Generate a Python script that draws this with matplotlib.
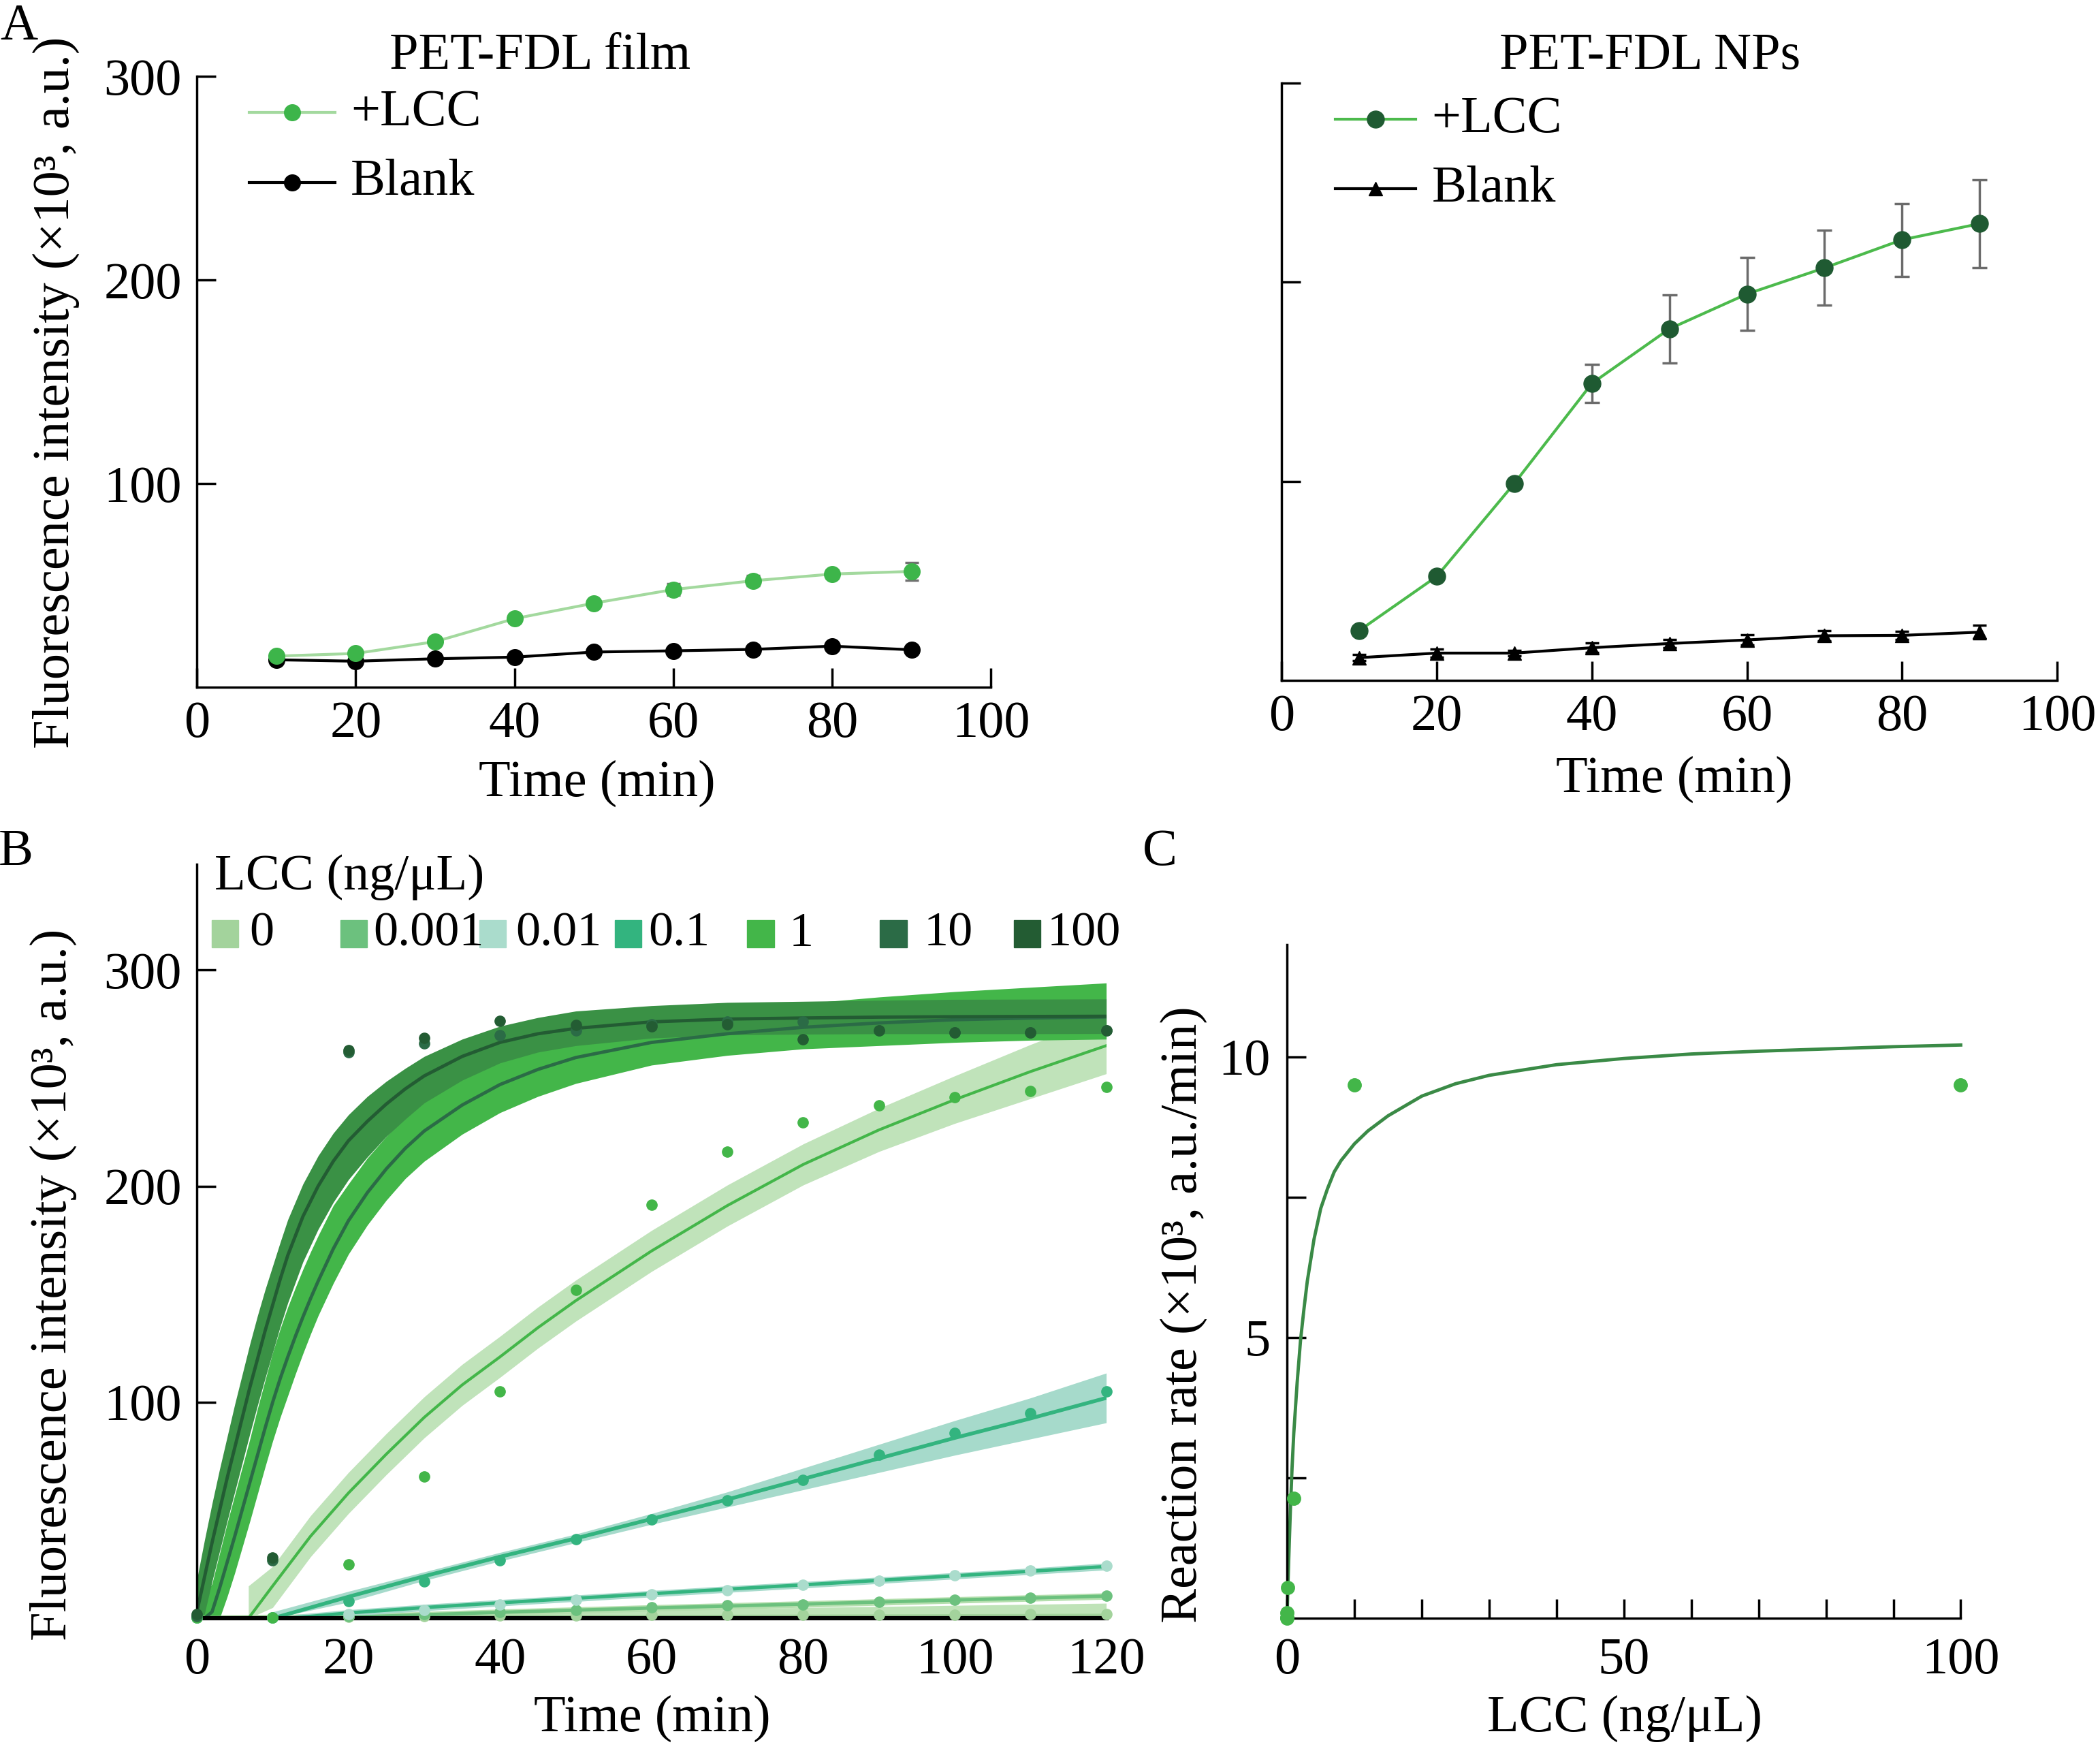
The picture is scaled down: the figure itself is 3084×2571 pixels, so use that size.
import matplotlib
matplotlib.use("Agg")
import matplotlib.pyplot as plt
from matplotlib.lines import Line2D
from matplotlib.patches import Rectangle
from matplotlib.ticker import FixedLocator, NullFormatter

plt.rcParams['font.family'] = ['Liberation Serif', 'DejaVu Serif']
plt.rcParams['axes.linewidth'] = 2.5

# ---------------- Panel A data ----------------
time_a = [10, 20, 30, 40, 50, 60, 70, 80, 90]
film_lcc = [15.3, 16.6, 22.4, 33.7, 41.3, 48.0, 52.3, 55.6, 56.9]
film_lcc_err = [1.0, 1.0, 1.0, 2.0, 1.2, 2.8, 2.5, 2.0, 4.5]
film_blank = [13.5, 12.8, 14.0, 14.8, 17.3, 17.9, 18.6, 20.2, 18.4]
np_lcc = [25.1, 52.3, 99.0, 149.2, 176.6, 194.1, 207.2, 221.3, 229.4]
np_lcc_err = [1.5, 1.5, 1.5, 9.5, 17.0, 18.3, 18.8, 18.3, 22.2]
np_blank = [11.5, 13.8, 13.8, 16.5, 18.6, 20.4, 22.5, 22.7, 24.3]
np_blank_err = [1.5, 2.0, 1.5, 2.5, 2.0, 2.5, 2.5, 2.0, 3.5]

# ---------------- Panel B data ----------------
lcc_labels = ['0', '0.001', '0.01', '0.1', '1', '10', '100']
time_pts = [0, 10, 20, 30, 40, 50, 60, 70, 80, 90, 100, 110, 120]
pts_0 = [0.5, 0.5, 0.8, 1.0, 1.2, 1.3, 1.5, 1.5, 1.6, 1.7, 1.8, 1.9, 2.0]
pts_0001 = [0.3, 0.5, 1.0, 2.0, 3.0, 4.0, 5.0, 6.0, 6.5, 7.5, 8.5, 9.5, 10.5]
pts_001 = [0.3, 0.5, 2.0, 4.0, 6.3, 8.5, 11.0, 13.0, 15.5, 17.5, 20.0, 22.0, 24.5]
pts_01 = [0.5, 0.5, 8.0, 17.0, 27.0, 36.5, 45.8, 54.7, 64.0, 75.8, 85.7, 95.0, 105.0]
pts_1 = [0.5, 0.5, 25.0, 65.5, 105.0, 152.0, 191.5, 216.0, 229.5, 237.5, 241.0, 244.0, 246.0]
pts_10 = [1.0, 27.0, 262.0, 266.0, 269.8, 272.0, 275.0, 276.0, 276.0, 272.0, 271.0, 271.0, 272.0]
pts_100 = [2.0, 28.0, 263.0, 268.5, 276.6, 274.7, 274.0, 275.0, 268.0, 272.0, 271.0, 271.0, 272.0]

# fitted curves with confidence bands
t_0 = [0, 40, 80, 120]
fit_0 = [0.5, 0.8, 1.1, 1.5]
lo_0 = [0, 0, 0, 0]
hi_0 = [1.5, 3.0, 5.0, 7.0]

t_0001 = [0, 15, 40, 60, 80, 100, 120]
fit_0001 = [0, 0, 2.8, 4.8, 6.6, 8.5, 10.3]
t_0001_band = [15, 40, 60, 80, 100, 120]
lo_0001 = [0, 1.3, 3.3, 5.1, 7.0, 8.8]
hi_0001 = [1.5, 4.3, 6.3, 8.1, 10.0, 11.8]

t_001 = [0, 12, 20, 30, 40, 50, 60, 70, 80, 90, 100, 110, 120]
fit_001 = [0, 0, 2.5, 5.0, 7.2, 9.3, 11.4, 13.5, 15.5, 17.6, 19.7, 21.8, 24.0]
t_001_band = [12, 20, 30, 40, 50, 60, 70, 80, 90, 100, 110, 120]
lo_001 = [0, 1.0, 3.5, 5.7, 7.8, 9.9, 12.0, 14.0, 16.1, 18.2, 20.3, 22.4]
hi_001 = [1.5, 4.0, 6.5, 8.7, 10.8, 12.9, 15.0, 17.0, 19.1, 21.2, 23.3, 25.6]

t_01 = [0, 10, 20, 30, 40, 50, 60, 70, 80, 90, 100, 110, 120]
fit_01 = [0, 0, 10.0, 19.5, 28.5, 37.0, 46.0, 55.0, 64.5, 74.0, 83.5, 92.5, 102.0]
t_01_band = [10, 20, 30, 40, 50, 60, 70, 80, 90, 100, 110, 120]
lo_01 = [0, 7.5, 17.5, 26.5, 35.0, 43.5, 51.5, 59.5, 67.5, 75.5, 83.0, 90.5]
hi_01 = [3.0, 12.5, 21.5, 30.5, 39.0, 48.5, 58.5, 69.5, 80.5, 91.5, 102.0, 113.5]

t_1 = [0, 6.8, 10, 15, 20, 25, 30, 35, 40, 45, 50, 60, 70, 80, 90, 100, 110, 120]
fit_1 = [0, 0, 15, 38, 58, 76, 93, 108, 121, 134.5, 147, 170, 191, 210, 226, 240, 253, 265]
t_1_band = [6.8, 10, 15, 20, 25, 30, 35, 40, 45, 50, 60, 70, 80, 90, 100, 110, 120]
lo_1 = [0, 5, 28.5, 48.5, 66.5, 83.5, 98.5, 111.5, 125, 137.5, 160.5, 181.5, 200.5, 216, 229, 240.5, 252]
hi_1 = [15, 24, 47.5, 67.5, 85.5, 102.5, 117.5, 130.5, 144, 156.5, 179.5, 200.5, 219.5, 236, 251, 265.5, 279]

t_fast = [0, 1, 2, 3, 4, 5, 6, 7, 8, 9, 10, 11, 12, 13, 14, 15, 16, 18, 20, 22.5, 25, 27.5,
          30, 35, 40, 45, 50, 60, 70, 80, 90, 100, 110, 120]
fit_10 = [0, 0, 3, 14, 26, 38, 50.5, 63, 75.5, 88, 100, 111, 121, 130.5, 139.5, 148, 156, 171,
          184, 197, 208, 217.5, 225.5, 237.5, 247, 254, 259.5, 266.5, 270.5, 273.5, 275.5, 277,
          277.8, 278.3]
lo_10 = [0, 0, 0, 0, 10, 21, 33, 45, 57.5, 70, 82, 93, 103, 113, 122.5, 131.5, 140, 155, 168.5,
         182, 193.5, 203.5, 211.5, 224, 234, 241.5, 247.5, 256, 260.5, 263.5, 265, 266.5, 267.5, 268]
hi_10 = [6, 10, 16, 30, 44, 57, 70, 83, 97, 110, 123, 134, 144, 153, 161.5, 169.5, 177, 191, 201,
         213, 223, 232, 239.5, 251, 260, 266, 271, 277, 281.5, 284.5, 287.5, 290, 292, 294]
t_fast100 = [0, 1, 2, 3, 4, 5, 6, 7, 8, 9, 10, 11, 12, 14, 16, 18, 20, 22.5, 25, 27.5, 30, 35,
             40, 45, 50, 60, 70, 80, 90, 100, 110, 120]
fit_100 = [3, 19, 35, 50, 65, 79, 93, 107, 120, 133, 145, 157, 168, 186, 200, 211.5, 221, 230,
           238, 245, 251, 260, 266.5, 270.5, 273, 276, 277.3, 277.8, 278.2, 278.4, 278.5, 278.6]
lo_100 = [0, 2, 17, 31, 45, 58.5, 72, 85.5, 98.5, 111, 123, 135, 146, 165, 180, 192.5, 203,
          213.5, 223, 231, 238.5, 249, 257, 262, 265, 268.5, 270, 270.3, 270.5, 270.5, 270.5, 270.6]
hi_100 = [18, 36, 53, 69, 84, 99, 113, 127, 140, 152, 163, 174, 184.5, 201, 214, 224.5, 233,
          241.5, 248.5, 254.5, 260, 268, 274, 278, 281, 283.5, 285, 285.5, 286, 286.4, 286.5, 286.6]

# ---------------- Panel C data ----------------
lcc_c = [0, 0.001, 0.01, 0.1, 1, 10, 100]
rate_c = [0.0, 0.02, 0.1, 0.55, 2.14, 9.5, 9.5]
curve_x = [0, 0.1, 0.25, 0.5, 0.75, 1, 1.5, 2, 2.5, 3, 4, 5, 6, 7, 8, 10, 12, 15, 20, 25, 30,
           40, 50, 60, 70, 80, 90, 100]
curve_y = [0, 0.45, 1.05, 1.95, 2.7, 3.3, 4.2, 4.95, 5.5, 6.0, 6.75, 7.3, 7.65, 7.95, 8.15, 8.45,
           8.68, 8.95, 9.3, 9.52, 9.67, 9.86, 9.97, 10.05, 10.1, 10.14, 10.18, 10.21]

# ---------------- layout helpers ----------------
FS = 55
W, H = 1568.0, 1307.0


def fx(x):
    return x / W


def fy(y):
    return 1 - y / H


def rect(x0, y0, x1, y1):
    return [fx(x0), fy(y1), fx(x1) - fx(x0), fy(y0) - fy(y1)]


fig = plt.figure(figsize=(30.84, 25.71), dpi=100)


def style(ax, xpad=14, ypad=16):
    for s in ('top', 'right'):
        ax.spines[s].set_visible(False)
    for s in ('left', 'bottom'):
        ax.spines[s].set_linewidth(2.5)
    ax.tick_params(axis='both', which='both', direction='in', length=20, width=2.5,
                   labelsize=FS)
    ax.tick_params(axis='x', pad=xpad)
    ax.tick_params(axis='y', pad=ypad)


# ---------------- Panel A left ----------------
axA1 = fig.add_axes(rect(147, 57, 740, 513))
style(axA1)
axA1.set_xlim(0, 100)
axA1.set_ylim(0, 300)
axA1.set_xticks([0, 20, 40, 60, 80, 100])
axA1.set_yticks([100, 200, 300])
axA1.plot(time_a, film_blank, color='black', lw=3, marker='o', ms=17, zorder=3)
axA1.errorbar(time_a, film_lcc, yerr=film_lcc_err, color='#a3d99e', lw=3, marker='o', ms=17,
              mfc='#3db54a', mec='#3db54a', ecolor='#707070', elinewidth=2.5, capsize=7,
              capthick=2.5, zorder=4)

# ---------------- Panel A right ----------------
axA2 = fig.add_axes(rect(957, 62, 1536, 508))
style(axA2)
axA2.set_xlim(0, 100)
axA2.set_ylim(0, 300)
axA2.set_xticks([0, 20, 40, 60, 80, 100])
axA2.set_yticks([100, 200, 300])
axA2.yaxis.set_major_formatter(NullFormatter())
axA2.errorbar(time_a, np_blank, yerr=np_blank_err, color='black', lw=3, marker='^', ms=15,
              ecolor='black', elinewidth=2.5, capsize=7, capthick=2.5, zorder=3)
axA2.errorbar(time_a, np_lcc, yerr=np_lcc_err, color='#4cba4c', lw=3, marker='o', ms=18,
              mfc='#1f5a32', mec='#1f5a32', ecolor='#6b6b6b', elinewidth=2.5, capsize=8,
              capthick=2.5, zorder=4)

fig.text(fx(403), fy(42), 'PET-FDL film', fontsize=FS, ha='center', va='center')
fig.text(fx(1232), fy(42), 'PET-FDL NPs', fontsize=FS, ha='center', va='center')


def fig_legend_line(x0, x1, y, color, mcolor, marker, ms, label, tx):
    fig.add_artist(Line2D([fx(x0), fx(x1)], [fy(y), fy(y)], color=color, lw=3,
                          transform=fig.transFigure))
    fig.add_artist(Line2D([fx((x0 + x1) / 2)], [fy(y)], color=mcolor, marker=marker, ms=ms,
                          lw=0, transform=fig.transFigure))
    fig.text(fx(tx), fy(y), label, fontsize=FS, ha='left', va='center')


fig_legend_line(186, 250, 84, '#a3d99e', '#3db54a', 'o', 17, '+LCC', 262)
fig_legend_line(186, 250, 136, 'black', 'black', 'o', 17, 'Blank', 262)
fig_legend_line(997, 1057, 89, '#4cba4c', '#1f5a32', 'o', 18, '+LCC', 1069)
fig_legend_line(997, 1057, 141, 'black', 'black', '^', 15, 'Blank', 1069)

fig.text(fx(446), fy(585), 'Time (min)', fontsize=FS, ha='center', va='center')
fig.text(fx(1250), fy(582), 'Time (min)', fontsize=FS, ha='center', va='center')
fig.text(fx(42), fy(293), 'Fluorescence intensity (×10³, a.u.)', fontsize=FS, ha='center',
         va='center', rotation=90)

# ---------------- Panel B ----------------
axB = fig.add_axes(rect(147, 645, 826, 1208))
style(axB, xpad=20, ypad=16)
axB.spines['bottom'].set_linewidth(4.5)
axB.tick_params(axis='x', length=0)
axB.set_xlim(0, 120)
axB.set_ylim(0, 349)
axB.set_xticks([0, 20, 40, 60, 80, 100, 120])
axB.set_yticks([100, 200, 300])

leg_colors = ['#a3d39c', '#6cc17e', '#aadccc', '#33b47f', '#43b649', '#2b6b46', '#235c33']

axB.fill_between(t_0, lo_0, hi_0, color='#bfe3b8', lw=0, zorder=1)
axB.plot(t_0, fit_0, color='#a3d39c', lw=3, zorder=2)
axB.fill_between(t_0001_band, lo_0001, hi_0001, color='#b5dfae', lw=0, zorder=1)
axB.plot(t_0001, fit_0001, color='#6cc17e', lw=3.5, zorder=2)
axB.fill_between(t_001_band, lo_001, hi_001, color='#a6dacb', lw=0, zorder=1)
axB.plot(t_001, fit_001, color='#33b47f', lw=3.5, zorder=2)
axB.fill_between(t_01_band, lo_01, hi_01, color='#a6dacb', lw=0, zorder=1)
axB.plot(t_01, fit_01, color='#33b47f', lw=4, zorder=2)
axB.fill_between(t_1_band, lo_1, hi_1, color='#c0e3ba', lw=0, zorder=1)
axB.plot(t_1, fit_1, color='#43b649', lw=3, zorder=2)
axB.fill_between(t_fast, lo_10, hi_10, color='#43b649', lw=0, zorder=1)
axB.plot(t_fast, fit_10, color='#2b6b46', lw=3.5, zorder=2)
axB.fill_between(t_fast100, lo_100, hi_100, color='#3a9145', lw=0, zorder=1)
axB.plot(t_fast100, fit_100, color='#235c33', lw=3.5, zorder=2)

for pts, c in zip([pts_0, pts_0001, pts_001, pts_01, pts_1, pts_10, pts_100], leg_colors):
    axB.plot(time_pts, pts, 'o', ms=11, color=c, lw=0, zorder=3, clip_on=False)

fig.text(fx(160), fy(655), 'LCC (ng/μL)', fontsize=54, ha='left', va='center')
sq_left = [158, 254, 358, 459, 558, 657, 757]
txt_left = [186, 279, 385, 484, 589, 690, 782]
for c, lab, sx, tx in zip(leg_colors, lcc_labels, sq_left, txt_left):
    fig.add_artist(Rectangle((fx(sx), fy(707)), fx(20), 20 / H, color=c,
                             transform=fig.transFigure))
    fig.text(fx(tx), fy(697), lab, fontsize=52, ha='left', va='center')

fig.text(fx(487), fy(1283), 'Time (min)', fontsize=FS, ha='center', va='center')
fig.text(fx(40), fy(959), 'Fluorescence intensity (×10³, a.u.)', fontsize=FS, ha='center',
         va='center', rotation=90)

# ---------------- Panel C ----------------
axC = fig.add_axes(rect(961, 705, 1464, 1208))
style(axC, xpad=20, ypad=18)
axC.set_xlim(0, 100)
axC.set_ylim(0, 12)
axC.xaxis.set_major_locator(FixedLocator([0, 50, 100]))
axC.xaxis.set_minor_locator(FixedLocator([10, 20, 30, 40, 60, 70, 80, 90]))
axC.yaxis.set_major_locator(FixedLocator([5, 10]))
axC.yaxis.set_minor_locator(FixedLocator([2.5, 7.5]))
axC.plot(curve_x, curve_y, color='#3a8a46', lw=3.5, zorder=2, clip_on=False)
axC.plot(lcc_c, rate_c, 'o', ms=14, color='#43b649', lw=0, zorder=3, clip_on=False)

fig.text(fx(1213), fy(1283), 'LCC (ng/μL)', fontsize=FS, ha='center', va='center')
fig.text(fx(884), fy(981), 'Reaction rate (×10³, a.u./min)', fontsize=FS, ha='center',
         va='center', rotation=90)

fig.text(fx(14), fy(20), 'A', fontsize=FS, ha='center', va='center')
fig.text(fx(12), fy(636), 'B', fontsize=FS, ha='center', va='center')
fig.text(fx(866), fy(636), 'C', fontsize=FS, ha='center', va='center')

fig.savefig('out.png', dpi=100)
